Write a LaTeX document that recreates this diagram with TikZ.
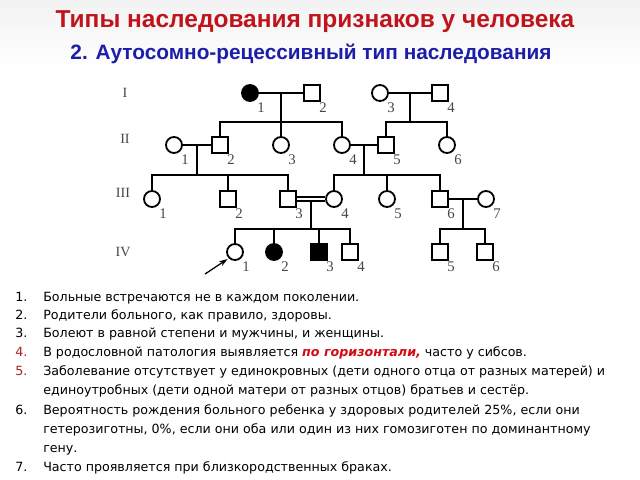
\documentclass[tikz,border=0pt]{standalone}
\usepackage{fontspec}
\setmainfont{DejaVu Sans}
\newfontfamily\headFont{Liberation Sans}
\newfontfamily\pedFont{Liberation Serif}
\usetikzlibrary{positioning,calc,arrows.meta}
\tikzstyle{slide} = [x = .025cm, y = -.025cm]
\definecolor{titleRed}{RGB}{192,20,28}
\definecolor{titleBlue}{RGB}{28,30,170}
\definecolor{numRed}{RGB}{170,30,40}
\definecolor{markRed}{RGB}{210,10,20}
\definecolor{labelGray}{RGB}{70,70,70}
\tikzstyle{lineStyle} = [color=black, line width=1.4pt]
\tikzstyle{personStyle} = [draw=black, line width=1.3pt, fill=white, inner sep=0pt]
\tikzstyle{maleStyle} = [personStyle, rectangle, minimum size=.4cm]
\tikzstyle{femaleStyle} = [personStyle, circle, minimum size=.4cm]
\tikzstyle{affectedStyle} = [fill=black]
\tikzstyle{numText} = [font=\pedFont\fontsize{10.5}{12}\selectfont, text=labelGray, inner sep=0pt]
\tikzstyle{genText} = [font=\pedFont\fontsize{10}{12}\selectfont, text=labelGray, inner sep=0pt]
\tikzstyle{listNum} = [anchor=base west, inner sep=0pt, font=\fontsize{9}{10}\selectfont]
\tikzstyle{listText} = [anchor=base west, inner sep=0pt, font=\fontsize{9}{10}\selectfont]
\newcommand{\malePerson}[4]{\node [maleStyle] (#1) at (#2,#3) {}; \node [numText] (#1n) at (#2 + 11, #3 + 15) {#4};}
\newcommand{\femalePerson}[4]{\node [femaleStyle] (#1) at (#2,#3) {}; \node [numText] (#1n) at (#2 + 11, #3 + 15) {#4};}
\newcommand{\maleAffected}[4]{\node [maleStyle, affectedStyle] (#1) at (#2,#3) {}; \node [numText] (#1n) at (#2 + 11, #3 + 15) {#4};}
\newcommand{\femaleAffected}[4]{\node [femaleStyle, affectedStyle] (#1) at (#2,#3) {}; \node [numText] (#1n) at (#2 + 11, #3 + 15) {#4};}
\newcommand{\couple}[3]{\draw [lineStyle] (#1) -- (#2); \coordinate (#3) at ($(#1)!.5!(#2)$);}
\newcommand{\sibBar}[4]{
  \coordinate (#1bar) at (#1 |- 0,#2);
  \draw [lineStyle] (#1) -- (#1bar);
  \draw [lineStyle] (#3.north) |- (#1bar) -| (#4.north);
}
\newcommand{\sibDrop}[2]{\draw [lineStyle] (#2.north) -- (#2.north |- #1bar);}

\begin{document}
\begin{tikzpicture}[slide]
  \useasboundingbox (0,0) rectangle (640,480);
  \shade [top color=gray!10, bottom color=white] (0,0) rectangle (640,72);

  \node [font=\headFont\bfseries\fontsize{17.4}{19}\selectfont, text=titleRed] (title) at (315,22) {Типы наследования признаков у человека};
  \node [font=\headFont\bfseries\fontsize{14.8}{16}\selectfont, text=titleBlue] (subtitle) at (311,54) {2. Аутосомно-рецессивный тип наследования};

  \node [genText] (genI) at (125,93) {I};
  \node [genText] (genII) at (125,139) {II};
  \node [genText] (genIII) at (123,193) {III};
  \node [genText] (genIV) at (123,252) {IV};

  \femaleAffected{I1}{250}{93}{1}
  \malePerson{I2}{312}{93}{2}
  \femalePerson{I3}{380}{93}{3}
  \malePerson{I4}{440}{93}{4}

  \femalePerson{II1}{174}{145}{1}
  \malePerson{II2}{220}{145}{2}
  \femalePerson{II3}{281}{145}{3}
  \femalePerson{II4}{342}{145}{4}
  \malePerson{II5}{386}{145}{5}
  \femalePerson{II6}{447}{145}{6}

  \femalePerson{III1}{152}{199}{1}
  \malePerson{III2}{228}{199}{2}
  \malePerson{III3}{288}{199}{3}
  \femalePerson{III4}{334}{199}{4}
  \femalePerson{III5}{387}{199}{5}
  \malePerson{III6}{440}{199}{6}
  \femalePerson{III7}{486}{199}{7}

  \femalePerson{IV1}{235}{252}{1}
  \femaleAffected{IV2}{274}{252}{2}
  \maleAffected{IV3}{319}{252}{3}
  \malePerson{IV4}{350}{252}{4}
  \malePerson{IV5}{440}{252}{5}
  \malePerson{IV6}{485}{252}{6}

  \couple{I1}{I2}{mI12}
  \couple{I3}{I4}{mI34}
  \sibBar{mI12}{122}{II2}{II4}
  \sibDrop{mI12}{II3}
  \sibBar{mI34}{122}{II5}{II6}

  \couple{II1}{II2}{mII12}
  \couple{II4}{II5}{mII45}
  \sibBar{mII12}{175}{III1}{III3}
  \sibDrop{mII12}{III2}
  \sibBar{mII45}{175}{III4}{III6}
  \sibDrop{mII45}{III5}

  \draw [black, line width=1pt, double, double distance=1.8pt] (III3) -- (III4);
  \coordinate (mIII34) at ($(III3)!.5!(III4) + (0,2)$);
  \couple{III6}{III7}{mIII67}
  \sibBar{mIII34}{229}{IV1}{IV4}
  \sibDrop{mIII34}{IV2}
  \sibDrop{mIII34}{IV3}
  \sibBar{mIII67}{229}{IV5}{IV6}

  \coordinate (probandTail) at (205,274);
  \draw [line width=.9pt, -{Stealth[length=6pt, width=4pt]}, shorten >=1pt] (probandTail) -- (IV1.-135);

  \node [listNum] (n1) at (15,301) {1.};
  \node [listText] (t1) at (43,301) {Больные встречаются не в каждом поколении.};
  \node [listNum] (n2) at (15,319) {2.};
  \node [listText] (t2) at (43,319) {Родители больного, как правило, здоровы.};
  \node [listNum] (n3) at (15,337) {3.};
  \node [listText] (t3) at (43,337) {Болеют в равной степени и мужчины, и женщины.};
  \node [listNum, text=numRed] (n4) at (15,356) {4.};
  \node [listText] (t4) at (43,356) {В родословной патология выявляется \textcolor{markRed}{\bfseries\itshape по горизонтали,} часто у сибсов.};
  \node [listNum, text=numRed] (n5) at (15,375) {5.};
  \node [listText] (t5a) at (43,375) {Заболевание отсутствует у единокровных (дети одного отца от разных матерей) и};
  \node [listText] (t5b) at (43,394) {единоутробных (дети одной матери от разных отцов) братьев и сестёр.};
  \node [listNum] (n6) at (15,414) {6.};
  \node [listText] (t6a) at (43,414) {Вероятность рождения больного ребенка у здоровых родителей 25\%, если они};
  \node [listText] (t6b) at (43,433) {гетерозиготны, 0\%, если они оба или один из них гомозиготен по доминантному};
  \node [listText] (t6c) at (43,452) {гену.};
  \node [listNum] (n7) at (15,471) {7.};
  \node [listText] (t7) at (43,471) {Часто проявляется при близкородственных браках.};
\end{tikzpicture}
\end{document}
